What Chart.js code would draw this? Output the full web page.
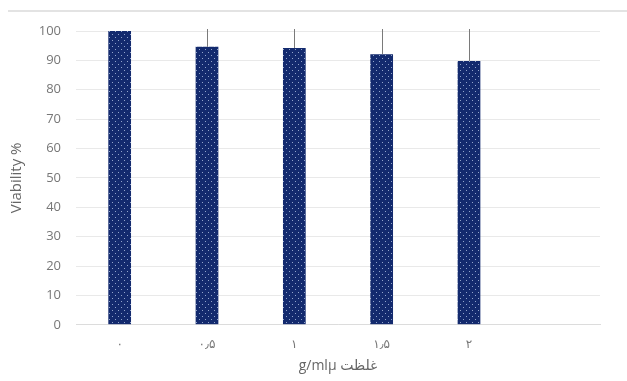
<!DOCTYPE html>
<html>
<head>
<meta charset="utf-8">
<script src="https://cdn.jsdelivr.net/npm/chart.js@4/dist/chart.umd.min.js"></script>
<style>
  html, body { margin: 0; padding: 0; background: #fff; }
  #wrap { position: relative; width: 627px; height: 381px; }
  #topline { position: absolute; left: 8px; right: 0; top: 10px; height: 0; border-top: 2px solid #e3e3e3; }
</style>
</head>
<body>
<div id="wrap">
  <div id="topline"></div>
  <canvas id="viabilityChart" width="627" height="381"></canvas>
</div>
<script>
// --- Data ---
const concLabels = ['۰', '۰٫۵', '۱', '۱٫۵', '۲', ''];
const viability = [100, 94.6, 94.2, 92.1, 89.8, null];
const errUp = [0, 8, 8, 10, 12, 0];
const yTicks = [0, 10, 20, 30, 40, 50, 60, 70, 80, 90, 100];

// --- dotted navy fill like the original ---
function dotPattern() {
    const c = document.createElement('canvas');
    c.width = 6; c.height = 6;
    const p = c.getContext('2d');
    p.fillStyle = '#132a6e';
    p.fillRect(0, 0, 6, 6);
    p.fillStyle = 'rgba(190, 205, 235, 0.75)';
    p.fillRect(1, 1, 1, 1);
    p.fillRect(4, 4, 1, 1);
    return p.createPattern(c, 'repeat');
}

const errorBarPlugin = {
    id: 'errorBars',
    afterDatasetsDraw(chart) {
        const ctx = chart.ctx;
        const meta = chart.getDatasetMeta(0);
        const y = chart.scales.y;
        const area = chart.chartArea;
        ctx.save();
        ctx.beginPath();
        ctx.rect(area.left, area.top - 2, area.right - area.left, area.bottom - area.top + 2);
        ctx.clip();
        ctx.strokeStyle = '#7a7a7a';
        ctx.lineWidth = 1;
        meta.data.forEach((bar, i) => {
            if (viability[i] == null || !errUp[i]) return;
            const x = Math.round(bar.x) + 0.5;
            ctx.beginPath();
            ctx.moveTo(x, y.getPixelForValue(viability[i]));
            ctx.lineTo(x, y.getPixelForValue(viability[i] + errUp[i]));
            ctx.stroke();
        });
        ctx.restore();
    }
};

const fontFam = '"Open Sans", "DejaVu Sans", sans-serif';

new Chart(document.getElementById('viabilityChart').getContext('2d'), {
    type: 'bar',
    data: {
        labels: concLabels,
        datasets: [{
            data: viability,
            backgroundColor: dotPattern(),
            borderWidth: 0,
            categoryPercentage: 1,
            barPercentage: 0.26
        }]
    },
    plugins: [errorBarPlugin],
    options: {
        responsive: false,
        animation: false,
        layout: { padding: { top: 31, right: 27, bottom: 7, left: 8 } },
        plugins: { legend: { display: false }, tooltip: { enabled: false } },
        scales: {
            x: {
                grid: { display: false },
                border: { color: '#dcdcdc' },
                ticks: { color: '#777', font: { family: fontFam, size: 12 }, padding: 5 },
                title: {
                    display: true,
                    text: 'g/mlµ غلظت',
                    color: '#666',
                    font: { family: fontFam, size: 14 },
                    padding: { top: 0, bottom: 0 }
                }
            },
            y: {
                min: 0,
                max: 100,
                afterBuildTicks(axis) { axis.ticks = yTicks.map(v => ({ value: v })); },
                afterFit(axis) { axis.width = 68; },
                grid: { color: '#e9e9e9', drawTicks: false },
                border: { display: false },
                ticks: { color: '#777', font: { family: fontFam, size: 13 }, padding: 15 },
                title: {
                    display: true,
                    text: 'Viability %',
                    color: '#666',
                    font: { family: fontFam, size: 15 },
                    padding: { top: 0, bottom: 4 }
                }
            }
        }
    }
});
</script>
</body>
</html>
